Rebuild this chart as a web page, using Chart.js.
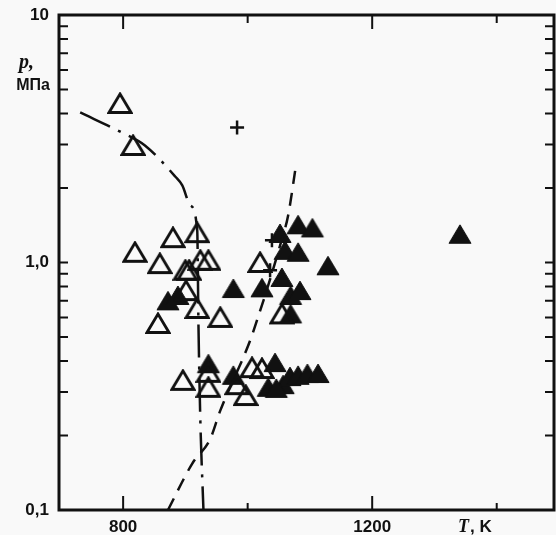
<!DOCTYPE html>
<html>
<head>
<meta charset="utf-8">
<script src="https://cdn.jsdelivr.net/npm/chart.js@4.4.0/dist/chart.umd.min.js"></script>
<style>
  html, body { margin: 0; padding: 0; background: #f9f9f9; }
  #wrap { width: 556px; height: 535px; }
</style>
</head>
<body>
<div id="wrap"><canvas id="chart" width="556" height="535"></canvas></div>
<script>
const ink = '#111';

// open triangles
const openT = [795, 816, 819, 880, 919, 859, 900, 906, 924, 937, 856, 901, 919, 956, 1020, 1055, 896, 937, 937, 983, 997, 1007, 1023];
const openP = [4.39, 2.97, 1.10, 1.26, 1.32, 0.99, 0.93, 0.93, 1.02, 1.02, 0.567, 0.77, 0.652, 0.60, 1.0, 0.62, 0.334, 0.36, 0.313, 0.321, 0.29, 0.376, 0.373];

// filled triangles
const fillT = [872, 888, 977, 1023, 1081, 1104, 1052, 1060, 1081, 1129, 1055, 1069, 1084, 1069, 937, 977, 1033, 1044, 1057, 1068, 1081, 1096, 1113, 1046, 1341];
const fillP = [0.70, 0.736, 0.785, 0.79, 1.42, 1.38, 1.31, 1.12, 1.10, 0.97, 0.87, 0.736, 0.77, 0.62, 0.39, 0.35, 0.313, 0.394, 0.321, 0.346, 0.35, 0.356, 0.356, 0.31, 1.30];

// crosses
const plusT = [983, 1039, 1036];
const plusP = [3.51, 1.23, 0.93];

// dash-dot curve
const dashDotT = [731, 798, 835, 884, 895, 908, 919, 921, 924, 929];
const dashDotP = [4.04, 3.35, 2.97, 2.22, 2.05, 1.70, 1.35, 0.556, 0.23, 0.1];

// dashed curve
const dashT = [872, 911, 940, 956, 1004, 1017, 1028, 1052, 1065, 1078];
const dashP = [0.1, 0.154, 0.194, 0.252, 0.484, 0.605, 0.736, 1.17, 1.55, 2.51];

// ticks
const xLabelTicks = [800, 1200];
const xMinorTicks = [1000, 1400];
const yLabelTicks = [0.1, 1, 10];
const yMinorTicks = [0.2, 0.3, 0.4, 0.5, 0.6, 0.7, 0.8, 0.9, 2, 3, 4, 5, 6, 7, 8, 9];

const pts = (xs, ys) => xs.map((v, i) => ({ x: v, y: ys[i] }));

// triangle marker drawn on its own small canvas, centred on its bounding box
function triangle(filled) {
    const c = document.createElement('canvas');
    c.width = 26; c.height = 23;
    const g = c.getContext('2d');
    g.beginPath();
    g.moveTo(2, 20.5);
    g.lineTo(24, 20.5);
    g.lineTo(13, 2);
    g.closePath();
    g.lineJoin = 'miter';
    if (filled) {
        g.fillStyle = ink;
        g.fill();
        g.lineWidth = 1;
    } else {
        g.lineWidth = 2.8;
    }
    g.strokeStyle = ink;
    g.stroke();
    return c;
}

const noPad = s => {
    s.paddingLeft = 0; s.paddingRight = 0;
    s.paddingTop = 0; s.paddingBottom = 0;
};

const frame = {
    id: 'frame',
    beforeDraw(chart) {
        const ctx = chart.ctx;
        ctx.save();
        ctx.fillStyle = '#f9f9f9';
        ctx.fillRect(0, 0, chart.width, chart.height);
        ctx.restore();
    },
    afterDraw(chart) {
        const { ctx, chartArea: a, scales: { x, y } } = chart;
        ctx.save();
        ctx.strokeStyle = ink;
        ctx.lineWidth = 2;
        ctx.beginPath();
        yLabelTicks.concat(yMinorTicks).forEach(v => {
            const py = y.getPixelForValue(v);
            ctx.moveTo(a.left, py); ctx.lineTo(a.left + 9, py);
            ctx.moveTo(a.right, py); ctx.lineTo(a.right - 9, py);
        });
        xLabelTicks.forEach(v => {
            const px = x.getPixelForValue(v);
            ctx.moveTo(px, a.bottom); ctx.lineTo(px, a.bottom - 14);
            ctx.moveTo(px, a.top); ctx.lineTo(px, a.top + 14);
        });
        xMinorTicks.forEach(v => {
            const px = x.getPixelForValue(v);
            ctx.moveTo(px, a.bottom); ctx.lineTo(px, a.bottom - 7);
            ctx.moveTo(px, a.top); ctx.lineTo(px, a.top + 8);
        });
        ctx.stroke();
        ctx.lineWidth = 3;
        ctx.strokeRect(a.left, a.top, a.right - a.left, a.bottom - a.top);

        // axis titles
        ctx.fillStyle = ink;
        ctx.textBaseline = 'alphabetic';
        ctx.textAlign = 'left';
        ctx.font = 'italic bold 20px "Liberation Serif"';
        ctx.fillText('p,', 19, 68);
        ctx.font = 'bold 16px "Liberation Sans"';
        ctx.textAlign = 'right';
        ctx.fillText('МПа', 50, 90);
        ctx.textAlign = 'left';
        ctx.font = 'italic bold 18px "Liberation Serif"';
        ctx.fillText('T', 458, 532);
        const tw = ctx.measureText('T').width;
        ctx.font = 'bold 17px "Liberation Sans"';
        ctx.fillText(', K', 458 + tw + 1, 532);
        ctx.restore();
    }
};

new Chart(document.getElementById('chart'), {
    type: 'scatter',
    data: {
        datasets: [
            {
                type: 'line',
                data: pts(dashDotT, dashDotP),
                borderColor: ink,
                borderWidth: 2.5,
                borderDash: [33, 9, 3, 9],
                pointRadius: 0,
                cubicInterpolationMode: 'monotone',
                fill: false
            },
            {
                type: 'line',
                data: pts(dashT, dashP),
                borderColor: ink,
                borderWidth: 2.5,
                borderDash: [13, 9],
                pointRadius: 0,
                cubicInterpolationMode: 'monotone',
                fill: false
            },
            {
                data: pts(openT, openP),
                pointStyle: triangle(false),
                pointRadius: 12
            },
            {
                data: pts(fillT, fillP),
                pointStyle: triangle(true),
                pointRadius: 12
            },
            {
                data: pts(plusT, plusP),
                pointStyle: 'cross',
                pointRadius: 7,
                borderColor: ink,
                borderWidth: 2.5
            }
        ]
    },
    options: {
        responsive: false,
        animation: false,
        layout: { autoPadding: false, padding: { top: 15, right: 2, left: 0, bottom: 0 } },
        plugins: { legend: { display: false }, tooltip: { enabled: false } },
        scales: {
            x: {
                type: 'linear',
                min: 697,
                max: 1492,
                grid: { display: false, drawTicks: false },
                border: { display: false },
                afterBuildTicks: s => { s.ticks = xLabelTicks.map(v => ({ value: v })); },
                afterFit: s => { s.height = 25; noPad(s); },
                ticks: {
                    color: ink,
                    padding: 7,
                    maxRotation: 0,
                    font: { family: '"Liberation Sans"', size: 17, weight: 'bold' },
                    callback: v => String(v)
                }
            },
            y: {
                type: 'logarithmic',
                min: 0.1,
                max: 10,
                grid: { display: false, drawTicks: false },
                border: { display: false },
                afterBuildTicks: s => { s.ticks = yLabelTicks.map(v => ({ value: v })); },
                afterFit: s => { s.width = 59; noPad(s); },
                ticks: {
                    color: ink,
                    padding: 10,
                    font: { family: '"Liberation Sans"', size: 17, weight: 'bold' },
                    callback: v => v === 10 ? '10' : v.toFixed(1).replace('.', ',')
                }
            }
        }
    },
    plugins: [frame]
});
</script>
</body>
</html>
